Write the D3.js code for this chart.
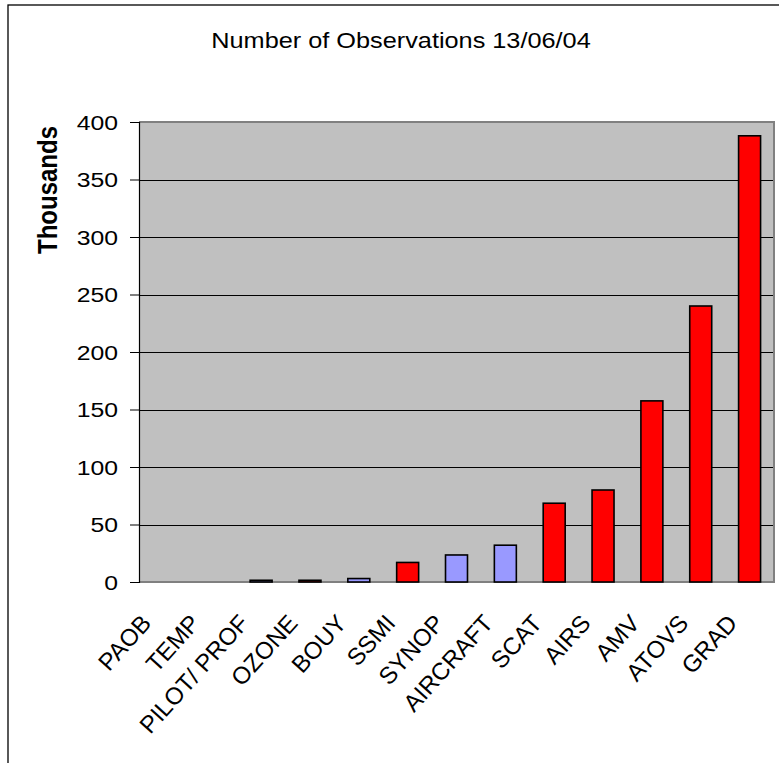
<!DOCTYPE html>
<html>
<head>
<meta charset="utf-8">
<script src="https://cdn.jsdelivr.net/npm/d3@7"></script>
<style>
  html, body { margin: 0; padding: 0; background: #fff; }
  svg { display: block; }
  text { font-family: "Liberation Sans", Arial, sans-serif; fill: #000; }
</style>
</head>
<body>
<svg id="chart" width="779" height="763"></svg>
<script>
// Observation types, in plotted order
const categories = ["PAOB", "TEMP", "PILOT/ PROF", "OZONE", "BOUY", "SSMI", "SYNOP",
  "AIRCRAFT", "SCAT", "AIRS", "AMV", "ATOVS", "GRAD"];
// Number of observations (thousands)
const values = [0, 0, 1.5, 1.5, 3, 17, 23.5, 32, 68.5, 80, 157.5, 240, 388];
// Observation group: conventional or satellite
const groups = ["conv", "conv", "conv", "sat", "conv", "sat", "conv",
  "conv", "sat", "sat", "sat", "sat", "sat"];
const yTicks = [0, 50, 100, 150, 200, 250, 300, 350, 400];

const colors = { conv: "#9999FF", sat: "#FF0000" };

const svg = d3.select("#chart");
const plot = { left: 139, right: 774, top: 122, bottom: 582 };

// Outer frame
svg.append("rect")
  .attr("x", 8).attr("y", 5)
  .attr("width", 820).attr("height", 820)
  .attr("fill", "#fff").attr("stroke", "#000").attr("stroke-width", 1.3);

// Title
svg.append("text")
  .attr("transform", "translate(401,48) scale(1.15,1)")
  .attr("text-anchor", "middle")
  .attr("font-size", 22)
  .text("Number of Observations 13/06/04");

const x = d3.scaleBand()
  .domain(categories)
  .range([plot.left, plot.right])
  .paddingInner(0.55)
  .paddingOuter(0.275);

const y = d3.scaleLinear()
  .domain([0, 400])
  .range([plot.bottom, plot.top]);

// Plot background
svg.append("rect")
  .attr("x", plot.left).attr("y", plot.top)
  .attr("width", plot.right - plot.left)
  .attr("height", plot.bottom - plot.top)
  .attr("fill", "#C0C0C0");

// Gridlines
svg.append("g")
  .selectAll("line")
  .data(yTicks.filter(d => d > 0 && d < 400))
  .join("line")
  .attr("x1", plot.left).attr("x2", plot.right)
  .attr("y1", d => Math.round(y(d)) + 0.5).attr("y2", d => Math.round(y(d)) + 0.5)
  .attr("stroke", "#000").attr("stroke-width", 1);

// Plot border (top, right, bottom)
svg.append("path")
  .attr("d", `M${plot.left},${plot.top}H${plot.right}V${plot.bottom}H${plot.left}`)
  .attr("fill", "none").attr("stroke", "#808080").attr("stroke-width", 2);

// Bars
svg.append("g")
  .selectAll("rect")
  .data(categories.map((c, i) => ({ c, v: values[i], g: groups[i] })).filter(d => d.v > 0))
  .join("rect")
  .attr("x", d => x(d.c))
  .attr("y", d => y(d.v))
  .attr("width", x.bandwidth())
  .attr("height", d => y(0) - y(d.v))
  .attr("fill", d => colors[d.g])
  .attr("stroke", "#000").attr("stroke-width", 1.6);

// Y axis
const yAxis = d3.axisLeft(y)
  .tickValues(yTicks)
  .tickSize(9)
  .tickPadding(12)
  .tickFormat(d3.format("d"));

const gy = svg.append("g")
  .attr("transform", `translate(${plot.left},0)`)
  .call(yAxis);
gy.select(".domain").attr("stroke", "#000").attr("stroke-width", 1.2);
gy.selectAll(".tick line").attr("stroke", "#000");
gy.selectAll(".tick text")
  .attr("font-size", 21)
  .attr("font-family", "Liberation Sans, Arial, sans-serif")
  .attr("fill", "#000")
  .attr("dy", "0.35em")
  .each(function () {
    const t = d3.select(this);
    const xx = +t.attr("x");
    t.attr("x", null)
      .attr("transform", `translate(${xx},0) scale(1.18,1)`);
  });

// X axis labels
svg.append("g")
  .selectAll("text")
  .data(categories)
  .join("text")
  .attr("transform", d => `translate(${x(d) + x.bandwidth() / 2 - 11},624) rotate(-48)`)
  .attr("text-anchor", "end")
  .attr("font-size", 24)
  .text(d => d);

// Y axis title
svg.append("text")
  .attr("transform", "translate(57,190) rotate(-90) scale(1,1.15)")
  .attr("text-anchor", "middle")
  .attr("font-size", 24)
  .attr("font-weight", "bold")
  .text("Thousands");
</script>
</body>
</html>
